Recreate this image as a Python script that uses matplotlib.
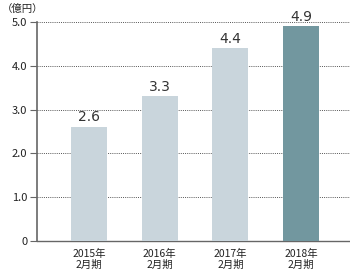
import matplotlib.pyplot as plt

plt.rcParams['font.family'] = ['Noto Sans CJK JP', 'DejaVu Sans']

years = ['2015年\n2月期', '2016年\n2月期', '2017年\n2月期', '2018年\n2月期']
values = [2.6, 3.3, 4.4, 4.9]
value_labels = ['2.6', '3.3', '4.4', '4.9']
yticks = [0, 1.0, 2.0, 3.0, 4.0, 5.0]
ytick_labels = ['0', '1.0', '2.0', '3.0', '4.0', '5.0']

LIGHT = '#c9d5dc'
DARK = '#72979f'
AXIS = '#666666'

fig = plt.figure(figsize=(3.5, 2.72), dpi=100)
ax = fig.add_axes([37/350, 1 - 241/272, 313/350, 219/272])

x = list(range(len(values)))
colors = [LIGHT] * (len(values) - 1) + [DARK]
ax.bar(x, values, width=0.51, color=colors, zorder=3)

for xi, v, lab in zip(x, values, value_labels):
    ax.text(xi, v + 0.06, lab, ha='center', va='bottom', fontsize=10,
            color='#333333', family=['DejaVu Sans'], zorder=4)

ax.set_ylim(0, 5.0)
ax.set_xlim(-0.735, 3.69)
ax.set_yticks(yticks)
ax.set_yticklabels(ytick_labels, fontsize=8, color='#222222')
ax.set_xticks(x)
ax.set_xticklabels(years, fontsize=7.5, color='#222222', linespacing=1.1)
ax.tick_params(axis='x', length=0, pad=6)
ax.tick_params(axis='y', length=5, width=0.8, color=AXIS, pad=2)

for y in yticks[1:]:
    ax.axhline(y, color='#555555', lw=0.7, ls=(0, (1, 1.2)), zorder=1)

for s in ['top', 'right']:
    ax.spines[s].set_visible(False)
ax.spines['left'].set_color(AXIS)
ax.spines['left'].set_linewidth(1.2)
ax.spines['bottom'].set_color(AXIS)
ax.spines['bottom'].set_linewidth(1.0)

fig.text(2/350, 1 - 4/272, '（億円）', ha='left', va='top', fontsize=7.5, color='#222222')

fig.savefig('out.png', dpi=100)
